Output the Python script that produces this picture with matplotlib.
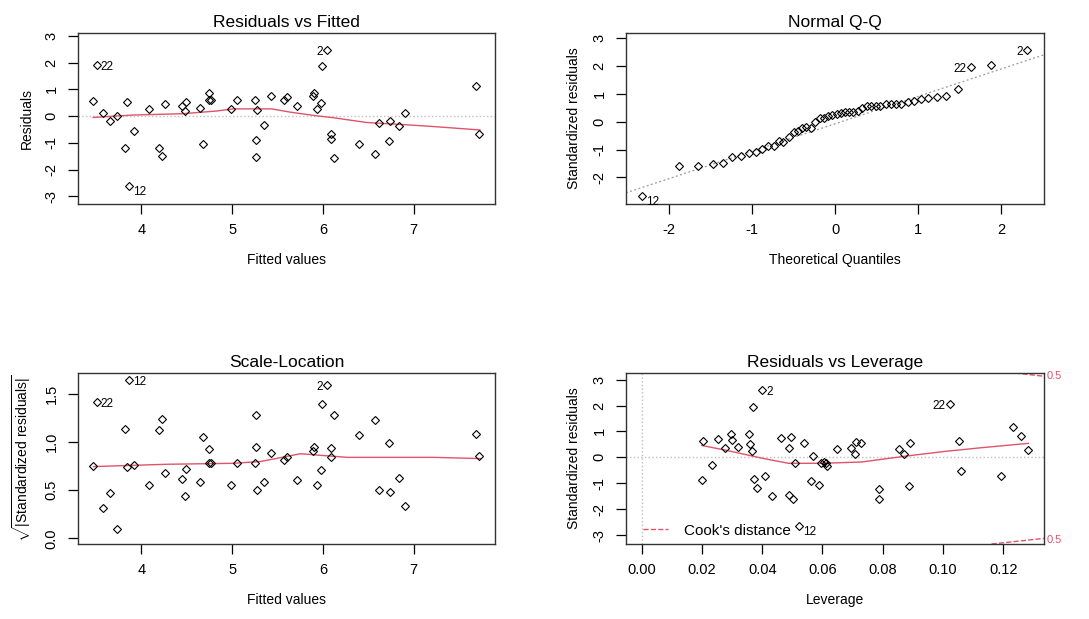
import numpy as np
import matplotlib
matplotlib.use("Agg")
from matplotlib import pyplot as plt

plt.rcParams['font.family'] = ['Liberation Sans', 'DejaVu Sans']
plt.rcParams['mathtext.fontset'] = 'custom'
plt.rcParams['mathtext.rm'] = 'Liberation Sans'
plt.rcParams['mathtext.it'] = 'Liberation Sans'
plt.rcParams['axes.unicode_minus'] = False

# --- data ------------------------------------------------------------------
fitted = [3.467, 3.504, 3.577, 3.651, 3.735, 3.82, 3.835, 3.86, 3.919, 4.081,
          4.19, 4.228, 4.261, 4.452, 4.496, 4.485, 4.64, 4.673, 4.739, 4.739,
          4.761, 4.982, 5.055, 5.254, 5.276, 5.265, 5.265, 5.349, 5.426, 5.57,
          5.607, 5.713, 5.886, 5.90, 5.938, 5.974, 5.985, 6.048, 6.092, 6.092,
          6.118, 6.397, 6.574, 6.621, 6.732, 6.743, 6.842, 6.904, 7.688, 7.724]
residuals = [0.55, 1.93, 0.10, -0.20, 0.02, -1.18, 0.54, -2.62, -0.54, 0.27,
             -1.18, -1.49, 0.45, 0.36, 0.52, 0.19, 0.32, -1.06, 0.85, 0.60,
             0.60, 0.27, 0.62, 0.59, 0.24, -0.88, -1.53, -0.32, 0.76, 0.62,
             0.72, 0.36, 0.76, 0.88, 0.27, 0.50, 1.88, 2.48, -0.67, -0.85,
             -1.58, -1.06, -1.41, -0.24, -0.93, -0.20, -0.37, 0.10, 1.11, -0.67]
sqrt_std_resid = [0.75, 1.424, 0.318, 0.474, 0.10, 1.134, 0.74, 1.649, 0.764, 0.56,
                  1.123, 1.241, 0.678, 0.619, 0.726, 0.439, 0.584, 1.051, 0.93, 0.788,
                  0.788, 0.56, 0.788, 0.788, 0.498, 0.954, 1.289, 0.584, 0.885, 0.812,
                  0.85, 0.605, 0.906, 0.954, 0.55, 0.716, 1.40, 1.60, 0.94, 0.85,
                  1.279, 1.075, 1.231, 0.498, 0.992, 0.487, 0.633, 0.332, 1.085, 0.861]
point_ids = {1: '22', 7: '12', 37: '2'}

rvf_smooth_x = [3.467, 3.908, 4.46, 4.827, 5.011, 5.434, 5.636, 5.93, 6.114, 6.482, 6.849, 7.217, 7.732]
rvf_smooth_y = [-0.05, 0.04, 0.09, 0.19, 0.27, 0.27, 0.15, 0.01, -0.06, -0.24, -0.31, -0.39, -0.52]

sl_smooth_x = [3.474, 4.283, 5.018, 5.313, 5.57, 5.754, 5.974, 6.268, 7.224, 7.739]
sl_smooth_y = [0.747, 0.771, 0.781, 0.80, 0.847, 0.881, 0.864, 0.843, 0.843, 0.83]

qq_theoretical = [-2.332, -1.881, -1.652, -1.475, -1.347, -1.238, -1.134, -1.037, -0.957, -0.876,
                  -0.812, -0.740, -0.671, -0.627, -0.559, -0.498, -0.446, -0.398, -0.35, -0.293,
                  -0.237, -0.185, -0.137, -0.08, -0.032, 0.024, 0.076, 0.125, 0.173, 0.221,
                  0.273, 0.33, 0.382, 0.434, 0.49, 0.547, 0.611, 0.675, 0.732, 0.796,
                  0.876, 0.953, 1.037, 1.118, 1.226, 1.335, 1.479, 1.636, 1.885, 2.32]
qq_sample = [-2.68, -1.607, -1.607, -1.524, -1.476, -1.262, -1.226, -1.131, -1.083, -0.964,
             -0.857, -0.881, -0.69, -0.714, -0.56, -0.357, -0.321, -0.214, -0.19, -0.214,
             0.0, 0.143, 0.131, 0.19, 0.25, 0.286, 0.321, 0.345, 0.345, 0.357,
             0.393, 0.488, 0.548, 0.548, 0.548, 0.571, 0.643, 0.631, 0.643, 0.631,
             0.69, 0.726, 0.798, 0.833, 0.869, 0.905, 1.167, 1.952, 2.036, 2.56]
qq_ids = {0: '12', 47: '22', 49: '2'}
qq_line_intercept = -0.08
qq_line_slope = 0.98

leverage = [0.02046, 0.0201, 0.02345, 0.02522, 0.02765, 0.02976, 0.03009, 0.03186, 0.03562, 0.03595,
            0.03673, 0.03706, 0.03739, 0.03816, 0.04004, 0.04104, 0.04336, 0.04635, 0.04878, 0.04878,
            0.04967, 0.05033, 0.05077, 0.05221, 0.05398, 0.05608, 0.05697, 0.05885, 0.05951, 0.06062,
            0.06117, 0.06161, 0.06471, 0.06947, 0.07069, 0.07102, 0.0729, 0.07865, 0.07865, 0.0854,
            0.08695, 0.08872, 0.08905, 0.10232, 0.10531, 0.10597, 0.11936, 0.12334, 0.12588, 0.1282]
lev_std_resid = [0.641, -0.885, -0.295, 0.692, 0.372, 0.91, 0.654, 0.41, 0.897, 0.513,
                 0.231, 1.962, -0.846, -1.192, 2.59, -0.705, -1.5, 0.731, 0.372, -1.449,
                 0.769, -1.603, -0.218, -2.654, 0.538, -0.923, 0.064, -1.051, -0.218, -0.192,
                 -0.231, -0.346, 0.321, 0.346, 0.141, 0.59, 0.538, -1.231, -1.59, 0.321,
                 0.141, -1.103, 0.538, 2.051, 0.628, -0.526, -0.705, 1.167, 0.808, 0.269]
lev_ids = {14: '2', 23: '12', 43: '22'}

lev_smooth_x = [0.0199, 0.0277, 0.0398, 0.0487, 0.0597, 0.073, 0.0885, 0.1007, 0.1117, 0.1283]
lev_smooth_y = [0.46, 0.28, -0.03, -0.23, -0.23, -0.18, 0.06, 0.23, 0.36, 0.54]

cook_top_x = [0.1239, 0.1335]
cook_top_y = [3.256, 3.13]
cook_bot_x = [0.1161, 0.1335]
cook_bot_y = [-3.346, -3.13]

RED = '#DF536B'
GREY = '#BEBEBE'


def r_axes(ax, title, xlabel, ylabel):
    ax.set_title(title, fontsize=12.5, pad=4)
    ax.set_xlabel(xlabel, fontsize=10, labelpad=11)
    ax.set_ylabel(ylabel, fontsize=10, labelpad=8)
    ax.tick_params(direction='out', length=7, width=0.9, labelsize=10.5, pad=7)
    ax.tick_params(axis='y', labelrotation=90)
    for lab in ax.get_yticklabels():
        lab.set_va('center')
    for s in ax.spines.values():
        s.set_linewidth(1.0)
        s.set_color('#333333')


def points(ax, x, y):
    ax.plot(x, y, 'D', ms=4.3, mfc='none', mec='black', mew=0.8, zorder=3)


def id_labels(ax, x, y, ids, xmid):
    for i, lab in ids.items():
        right = x[i] < xmid
        dy = -1.5 if y[i] >= 0 else -4
        ax.annotate(lab, (x[i], y[i]), xytext=(3 if right else -3, dy),
                    textcoords='offset points', ha='left' if right else 'right',
                    va='center', fontsize=8.5)


fig = plt.figure(figsize=(10.89, 6.19), dpi=100)
W, H = 1089, 619
ax1 = fig.add_axes([78 / W, 1 - 204 / H, 417 / W, 171 / H])
ax2 = fig.add_axes([626 / W, 1 - 204 / H, 418 / W, 171 / H])
ax3 = fig.add_axes([78 / W, 1 - 544 / H, 417 / W, 171 / H])
ax4 = fig.add_axes([626 / W, 1 - 544 / H, 418 / W, 171 / H])

# Residuals vs Fitted
ax1.axhline(0, color=GREY, ls=':', lw=1)
ax1.plot(rvf_smooth_x, rvf_smooth_y, color=RED, lw=1)
points(ax1, fitted, residuals)
ax1.set_xlim(3.30, 7.897)
ax1.set_ylim(-3.29, 3.11)
ax1.set_xticks([4, 5, 6, 7])
ax1.set_yticks([-3, -2, -1, 0, 1, 2, 3])
id_labels(ax1, fitted, residuals, point_ids, 5.6)
r_axes(ax1, 'Residuals vs Fitted', 'Fitted values', 'Residuals')

# Normal Q-Q
ax2.axline((0, qq_line_intercept), slope=qq_line_slope, color='#999999', ls=(0, (1.5, 2)), lw=0.9)
points(ax2, qq_theoretical, qq_sample)
ax2.set_xlim(-2.52, 2.52)
ax2.set_ylim(-2.95, 3.17)
ax2.set_xticks([-2, -1, 0, 1, 2])
ax2.set_yticks([-2, -1, 0, 1, 2, 3])
id_labels(ax2, qq_theoretical, qq_sample, qq_ids, 0)
r_axes(ax2, 'Normal Q-Q', 'Theoretical Quantiles', 'Standardized residuals')

# Scale-Location
ax3.plot(sl_smooth_x, sl_smooth_y, color=RED, lw=1)
points(ax3, fitted, sqrt_std_resid)
ax3.set_xlim(3.30, 7.897)
ax3.set_ylim(-0.059, 1.721)
ax3.set_xticks([4, 5, 6, 7])
ax3.set_yticks([0.0, 0.5, 1.0, 1.5])
ax3.set_yticklabels(['0.0', '0.5', '1.0', '1.5'])
id_labels(ax3, fitted, sqrt_std_resid, point_ids, 5.6)
r_axes(ax3, 'Scale-Location', 'Fitted values',
       r'$\sqrt{|\mathrm{Standardized\ residuals}|}$')

# Residuals vs Leverage
ax4.axhline(0, color=GREY, ls=':', lw=1)
ax4.axvline(0, color=GREY, ls=':', lw=1)
ax4.plot(lev_smooth_x, lev_smooth_y, color=RED, lw=1)
ax4.plot(cook_top_x, cook_top_y, color=RED, ls='--', lw=1, label="Cook's distance")
ax4.plot(cook_bot_x, cook_bot_y, color=RED, ls='--', lw=1)
points(ax4, leverage, lev_std_resid)
ax4.set_xlim(-0.0052, 0.1335)
ax4.set_ylim(-3.346, 3.256)
ax4.set_xticks([0.0, 0.02, 0.04, 0.06, 0.08, 0.10, 0.12])
ax4.set_xticklabels(['0.00', '0.02', '0.04', '0.06', '0.08', '0.10', '0.12'])
ax4.set_yticks([-3, -2, -1, 0, 1, 2, 3])
id_labels(ax4, leverage, lev_std_resid, lev_ids, 0.07)
ax4.text(1.006, 3.13, '0.5', transform=ax4.get_yaxis_transform(), color=RED,
         fontsize=8, va='center', ha='left')
ax4.text(1.006, -3.18, '0.5', transform=ax4.get_yaxis_transform(), color=RED,
         fontsize=8, va='center', ha='left')
ax4.legend(loc='lower left', bbox_to_anchor=(0.03, 0.01), frameon=False, fontsize=11,
           handlelength=1.6, handletextpad=1.1, borderaxespad=0.1, borderpad=0.2)
r_axes(ax4, 'Residuals vs Leverage', 'Leverage', 'Standardized residuals')

fig.savefig('out.png', dpi=100)
